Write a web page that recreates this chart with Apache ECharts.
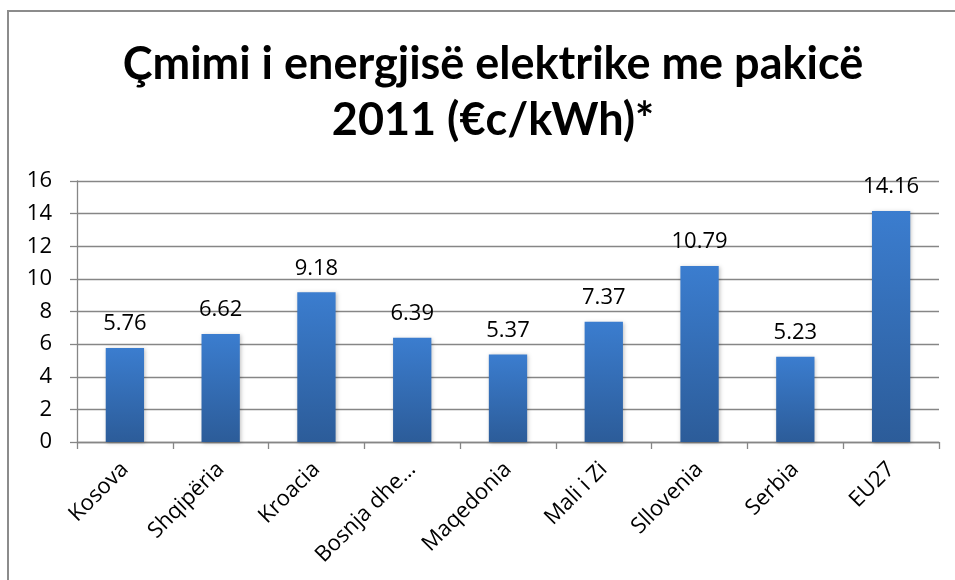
<!DOCTYPE html>
<html>
<head>
<meta charset="utf-8">
<script src="https://cdn.jsdelivr.net/npm/echarts@6/dist/echarts.min.js"></script>
<style>
    html, body { margin: 0; padding: 0; background: #fff; }
    .frame { position: absolute; left: 7px; top: 10px; width: 960px; height: 580px; border-left: 2px solid #8c8c8c; border-top: 2px solid #8c8c8c; }
    #main { position: absolute; left: 0; top: 0; width: 955px; height: 580px; }
</style>
</head>
<body>
<div class="frame"></div>
<div id="main"></div>
<script>
// 数据
const countries = ["Kosova", "Shqipëria", "Kroacia", "Bosnja dhe…", "Maqedonia", "Mali i Zi", "Sllovenia", "Serbia", "EU27"];
const prices = [5.76, 6.62, 9.18, 6.39, 5.37, 7.37, 10.79, 5.23, 14.16];
const title_text = "Çmimi i energjisë elektrike me pakicë\n2011 (€c/kWh)*";

(function () {
    const my_echart = echarts.init(document.getElementById("main"));
    const title_font = "Lato, 'Open Sans', sans-serif";
    const font = "'Open Sans', sans-serif";
    let option = {
        animation: false,
        backgroundColor: "transparent",
        title: {
            text: title_text,
            left: 488,
            top: 31,
            textAlign: "center",
            textStyle: {
                fontFamily: title_font,
                fontSize: 45,
                fontWeight: "bold",
                color: "#000",
                lineHeight: 56
            }
        },
        grid: {
            left: 77,
            right: 16,
            top: 181,
            bottom: 138
        },
        xAxis: {
            type: "category",
            data: countries,
            axisLine: { lineStyle: { color: "#868686", width: 1.3 } },
            axisTick: { show: true, length: 7, lineStyle: { color: "#868686", width: 1.3 } },
            axisLabel: {
                rotate: 45,
                margin: 24,
                fontFamily: font,
                fontSize: 22,
                color: "#000",
                interval: 0
            }
        },
        yAxis: {
            type: "value",
            min: 0,
            max: 16,
            interval: 2,
            axisLine: { show: true, lineStyle: { color: "#868686", width: 1.3 } },
            axisTick: { show: true, length: 7, lineStyle: { color: "#868686", width: 1.3 } },
            splitLine: { lineStyle: { color: "#868686", width: 1.3 } },
            axisLabel: {
                margin: 25,
                fontFamily: font,
                fontSize: 22,
                color: "#000"
            }
        },
        series: [
            {
                type: "bar",
                data: prices,
                barWidth: "40%",
                itemStyle: {
                    color: new echarts.graphic.LinearGradient(0, 0, 0, 1, [
                        { offset: 0, color: "#3b7dcf" }, //顶部
                        { offset: 1, color: "#2c5c99" }  //底部
                    ]),
                    shadowColor: "rgba(0,0,0,0.25)",
                    shadowBlur: 4,
                    shadowOffsetX: 1,
                    shadowOffsetY: 1
                },
                label: {
                    show: true,
                    position: "top",
                    distance: 13,
                    fontFamily: font,
                    fontSize: 22,
                    color: "#000"
                }
            }
        ]
    };
    my_echart.setOption(option);
})();
</script>
</body>
</html>
